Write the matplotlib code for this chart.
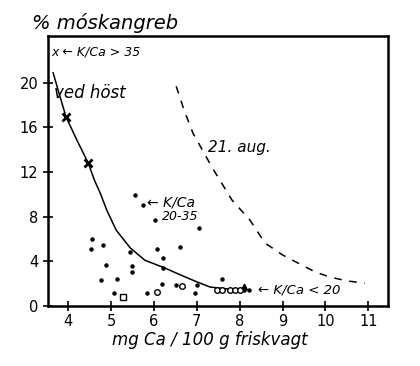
import numpy as np
import matplotlib
matplotlib.use("Agg")
import matplotlib.pyplot as plt

# solid curve (ved hoest)
solid_x = [3.65, 3.8, 3.95, 4.2, 4.47, 4.61, 4.75, 4.9, 5.12, 5.45, 5.79, 6.26, 6.61, 7.01, 7.31, 7.78, 8.22]
solid_y = [20.9, 18.9, 16.95, 14.9, 12.8, 11.3, 10.1, 8.6, 6.8, 5.2, 4.1, 3.4, 2.8, 2.15, 1.7, 1.5, 1.45]

# dashed curve (21. aug.)
dash_x = [6.52, 6.7, 6.91, 7.36, 7.82, 8.24, 8.59, 8.99, 9.36, 9.76, 10.1, 10.5, 10.92]
dash_y = [19.7, 17.6, 15.5, 12.4, 9.5, 7.7, 5.65, 4.6, 3.85, 3.05, 2.6, 2.25, 2.05]

# K/Ca > 35 (stars on the curve)
star_x = [3.95, 4.47]
star_y = [16.95, 12.8]

# small filled dots
dot_x = [5.56, 5.75, 6.03, 7.05, 4.56, 4.54, 4.82, 6.07, 6.61, 4.89, 5.49, 5.49,
         6.21, 6.21, 5.45, 4.77, 5.14, 5.07, 5.84, 6.96, 6.19, 6.52, 7.01, 7.59,
         8.10, 8.22]
dot_y = [9.96, 9.06, 7.7, 7.0, 6.0, 5.1, 5.5, 5.1, 5.3, 3.7, 3.6, 3.05,
         4.3, 3.4, 4.85, 2.3, 2.4, 1.15, 1.15, 1.15, 1.95, 1.9, 1.9, 2.4,
         1.43, 1.43]

# open circles
circ_x = [6.07, 6.66, 7.47, 7.59, 7.78, 7.89, 8.01]
circ_y = [1.25, 1.8, 1.43, 1.43, 1.43, 1.43, 1.43]

# open square and triangle
sq_x, sq_y = [5.28], [0.8]
tri_x, tri_y = [8.10], [1.75]

xticks = [4, 5, 6, 7, 8, 9, 10, 11]
yticks = [0, 4, 8, 12, 16, 20]

fig = plt.figure(figsize=(4.2, 3.66), dpi=100)
ax = fig.add_axes([48/420, 1-306/366, 340/420, 270/366])

ax.plot(solid_x, solid_y, color='black', lw=1.1)
ax.plot(dash_x, dash_y, color='black', lw=1.1, dashes=(5, 5))
ax.plot(star_x, star_y, 'x', color='black', ms=6, mew=2)
ax.plot(dot_x, dot_y, 'o', color='black', ms=2.2)
ax.plot(circ_x, circ_y, 'o', mfc='white', mec='black', ms=4, mew=1)
ax.plot(sq_x, sq_y, 's', mfc='white', mec='black', ms=4, mew=1)
ax.plot(tri_x, tri_y, '^', color='black', ms=3.5)

ax.set_xlim(3.53, 11.46)
ax.set_ylim(0, 24.2)
ax.set_xticks(xticks)
ax.set_yticks(yticks)
ax.tick_params(direction='inout', length=7, width=1.2, labelsize=10.5)
ax.tick_params(axis='x', pad=2)
for s in ax.spines.values():
    s.set_linewidth(1.8)

hand = dict(style='italic', color='black')
ax.text(3.6, 22.8, 'x ← K/Ca > 35', fontsize=9, va='center', **hand)
ax.text(3.68, 19.1, 'ved höst', fontsize=12, va='center', **hand)
ax.text(7.26, 14.2, '21. aug.', fontsize=11, va='center', **hand)
ax.text(5.84, 9.3, '← K/Ca', fontsize=10, va='center', **hand)
ax.text(6.19, 8.0, '20-35', fontsize=9, va='center', **hand)
ax.text(8.42, 1.43, '← K/Ca < 20', fontsize=9.5, va='center', **hand)

fig.text(32/420, 1-23/366, '% móskangreb', fontsize=14, va='center', **hand)
fig.text(210/420, 1-340/366, 'mg Ca / 100 g friskvagt', fontsize=12,
         ha='center', va='center', **hand)

fig.savefig('out.png', dpi=100)
